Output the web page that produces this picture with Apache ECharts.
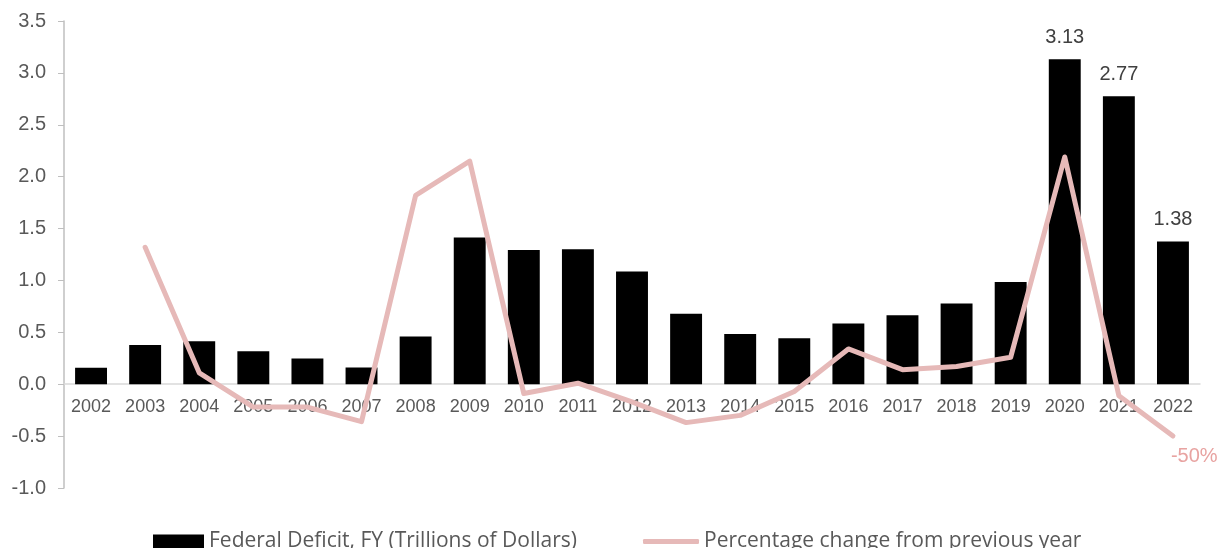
<!DOCTYPE html>
<html lang="en">
<head>
  <meta charset="UTF-8">
  <title>Federal Deficit</title>
  <script src="https://cdn.jsdelivr.net/npm/echarts@6/dist/echarts.min.js"></script>
  <style>
    html, body { margin: 0; padding: 0; background: #fff; }
    #chart { width: 1223px; height: 548px; }
  </style>
</head>
<body>
<div id="chart"></div>
<script>
  // 数据
  var years = ['2002','2003','2004','2005','2006','2007','2008','2009','2010','2011','2012',
               '2013','2014','2015','2016','2017','2018','2019','2020','2021','2022'];
  var deficit = [0.158, 0.378, 0.413, 0.318, 0.248, 0.161, 0.459, 1.413, 1.294, 1.300, 1.087,
                 0.680, 0.485, 0.442, 0.585, 0.665, 0.779, 0.984, 3.132, 2.775, 1.375];
  var pctChange = [null, 1.32, 0.11, -0.22, -0.22, -0.36, 1.82, 2.15, -0.09, 0.01, -0.17,
                   -0.37, -0.30, -0.07, 0.34, 0.14, 0.17, 0.26, 2.19, -0.11, -0.50];
  var labeledYears = ['2020', '2021', '2022'];
  var yTicks = { min: -1, max: 3.5, step: 0.5 };

  var barName = 'Federal Deficit, FY (Trillions of Dollars)';
  var lineName = 'Percentage change from previous year';

  var myChart = echarts.init(document.getElementById('chart'));

  // 0 线离网格底部的距离，用来把类目轴放到 0 上
  var gridTop = 21, gridBottom = 60;
  var plotH = 548 - gridTop - gridBottom;
  var zeroOffset = plotH * (0 - yTicks.min) / (yTicks.max - yTicks.min);

  var legendText = { fontFamily: 'Open Sans', fontSize: 21, color: '#595959' };

  var option = {
    animation: false,
    grid: { left: 64, right: 23, top: gridTop, bottom: gridBottom },
    legend: [
      {
        top: 531, left: 153, padding: 0,
        itemWidth: 51, itemHeight: 14,
        textStyle: legendText,
        data: [{ name: barName, icon: 'rect' }]
      },
      {
        top: 531, left: 643, padding: 0,
        itemWidth: 56, itemHeight: 5,
        textStyle: legendText,
        data: [{ name: lineName, icon: 'roundRect' }]
      }
    ],
    xAxis: {
      type: 'category',
      data: years,
      offset: -zeroOffset,
      axisLine: { onZero: false, lineStyle: { color: '#d9d9d9', width: 1.5 } },
      axisTick: { show: false },
      axisLabel: { color: '#595959', fontFamily: 'Liberation Sans', fontSize: 18, margin: 14 }
    },
    yAxis: {
      type: 'value',
      min: yTicks.min,
      max: yTicks.max,
      interval: yTicks.step,
      splitLine: { show: false },
      axisLine: { show: true, lineStyle: { color: '#bfbfbf', width: 1.5 } },
      axisTick: { show: true, length: 6, lineStyle: { color: '#bfbfbf' } },
      axisLabel: {
        color: '#595959', fontFamily: 'Liberation Sans', fontSize: 20, margin: 18,
        formatter: function (v) { return v.toFixed(1); }
      }
    },
    series: [
      {
        name: barName,
        type: 'bar',
        data: deficit.map(function (v, i) {
          var show = labeledYears.indexOf(years[i]) >= 0;
          return { value: v, label: { show: show } };
        }),
        barCategoryGap: '41%',
        itemStyle: { color: '#000000' },
        label: {
          position: 'top',
          distance: 12,
          color: '#404040',
          fontFamily: 'Liberation Sans',
          fontSize: 20,
          formatter: function (p) { return p.value.toFixed(2); }
        }
      },
      {
        name: lineName,
        type: 'line',
        data: pctChange,
        showSymbol: false,
        symbol: 'none',
        z: 5,
        lineStyle: { color: '#E6B9B8', width: 5, cap: 'round', join: 'round' },
        itemStyle: { color: '#E6B9B8' },
        endLabel: {
          show: true,
          offset: [-10, 20],
          color: '#E8A3A1',
          fontFamily: 'Liberation Sans',
          fontSize: 20,
          formatter: function (p) { return Math.round(p.value * 100) + '%'; }
        }
      }
    ]
  };

  myChart.setOption(option);
</script>
</body>
</html>
